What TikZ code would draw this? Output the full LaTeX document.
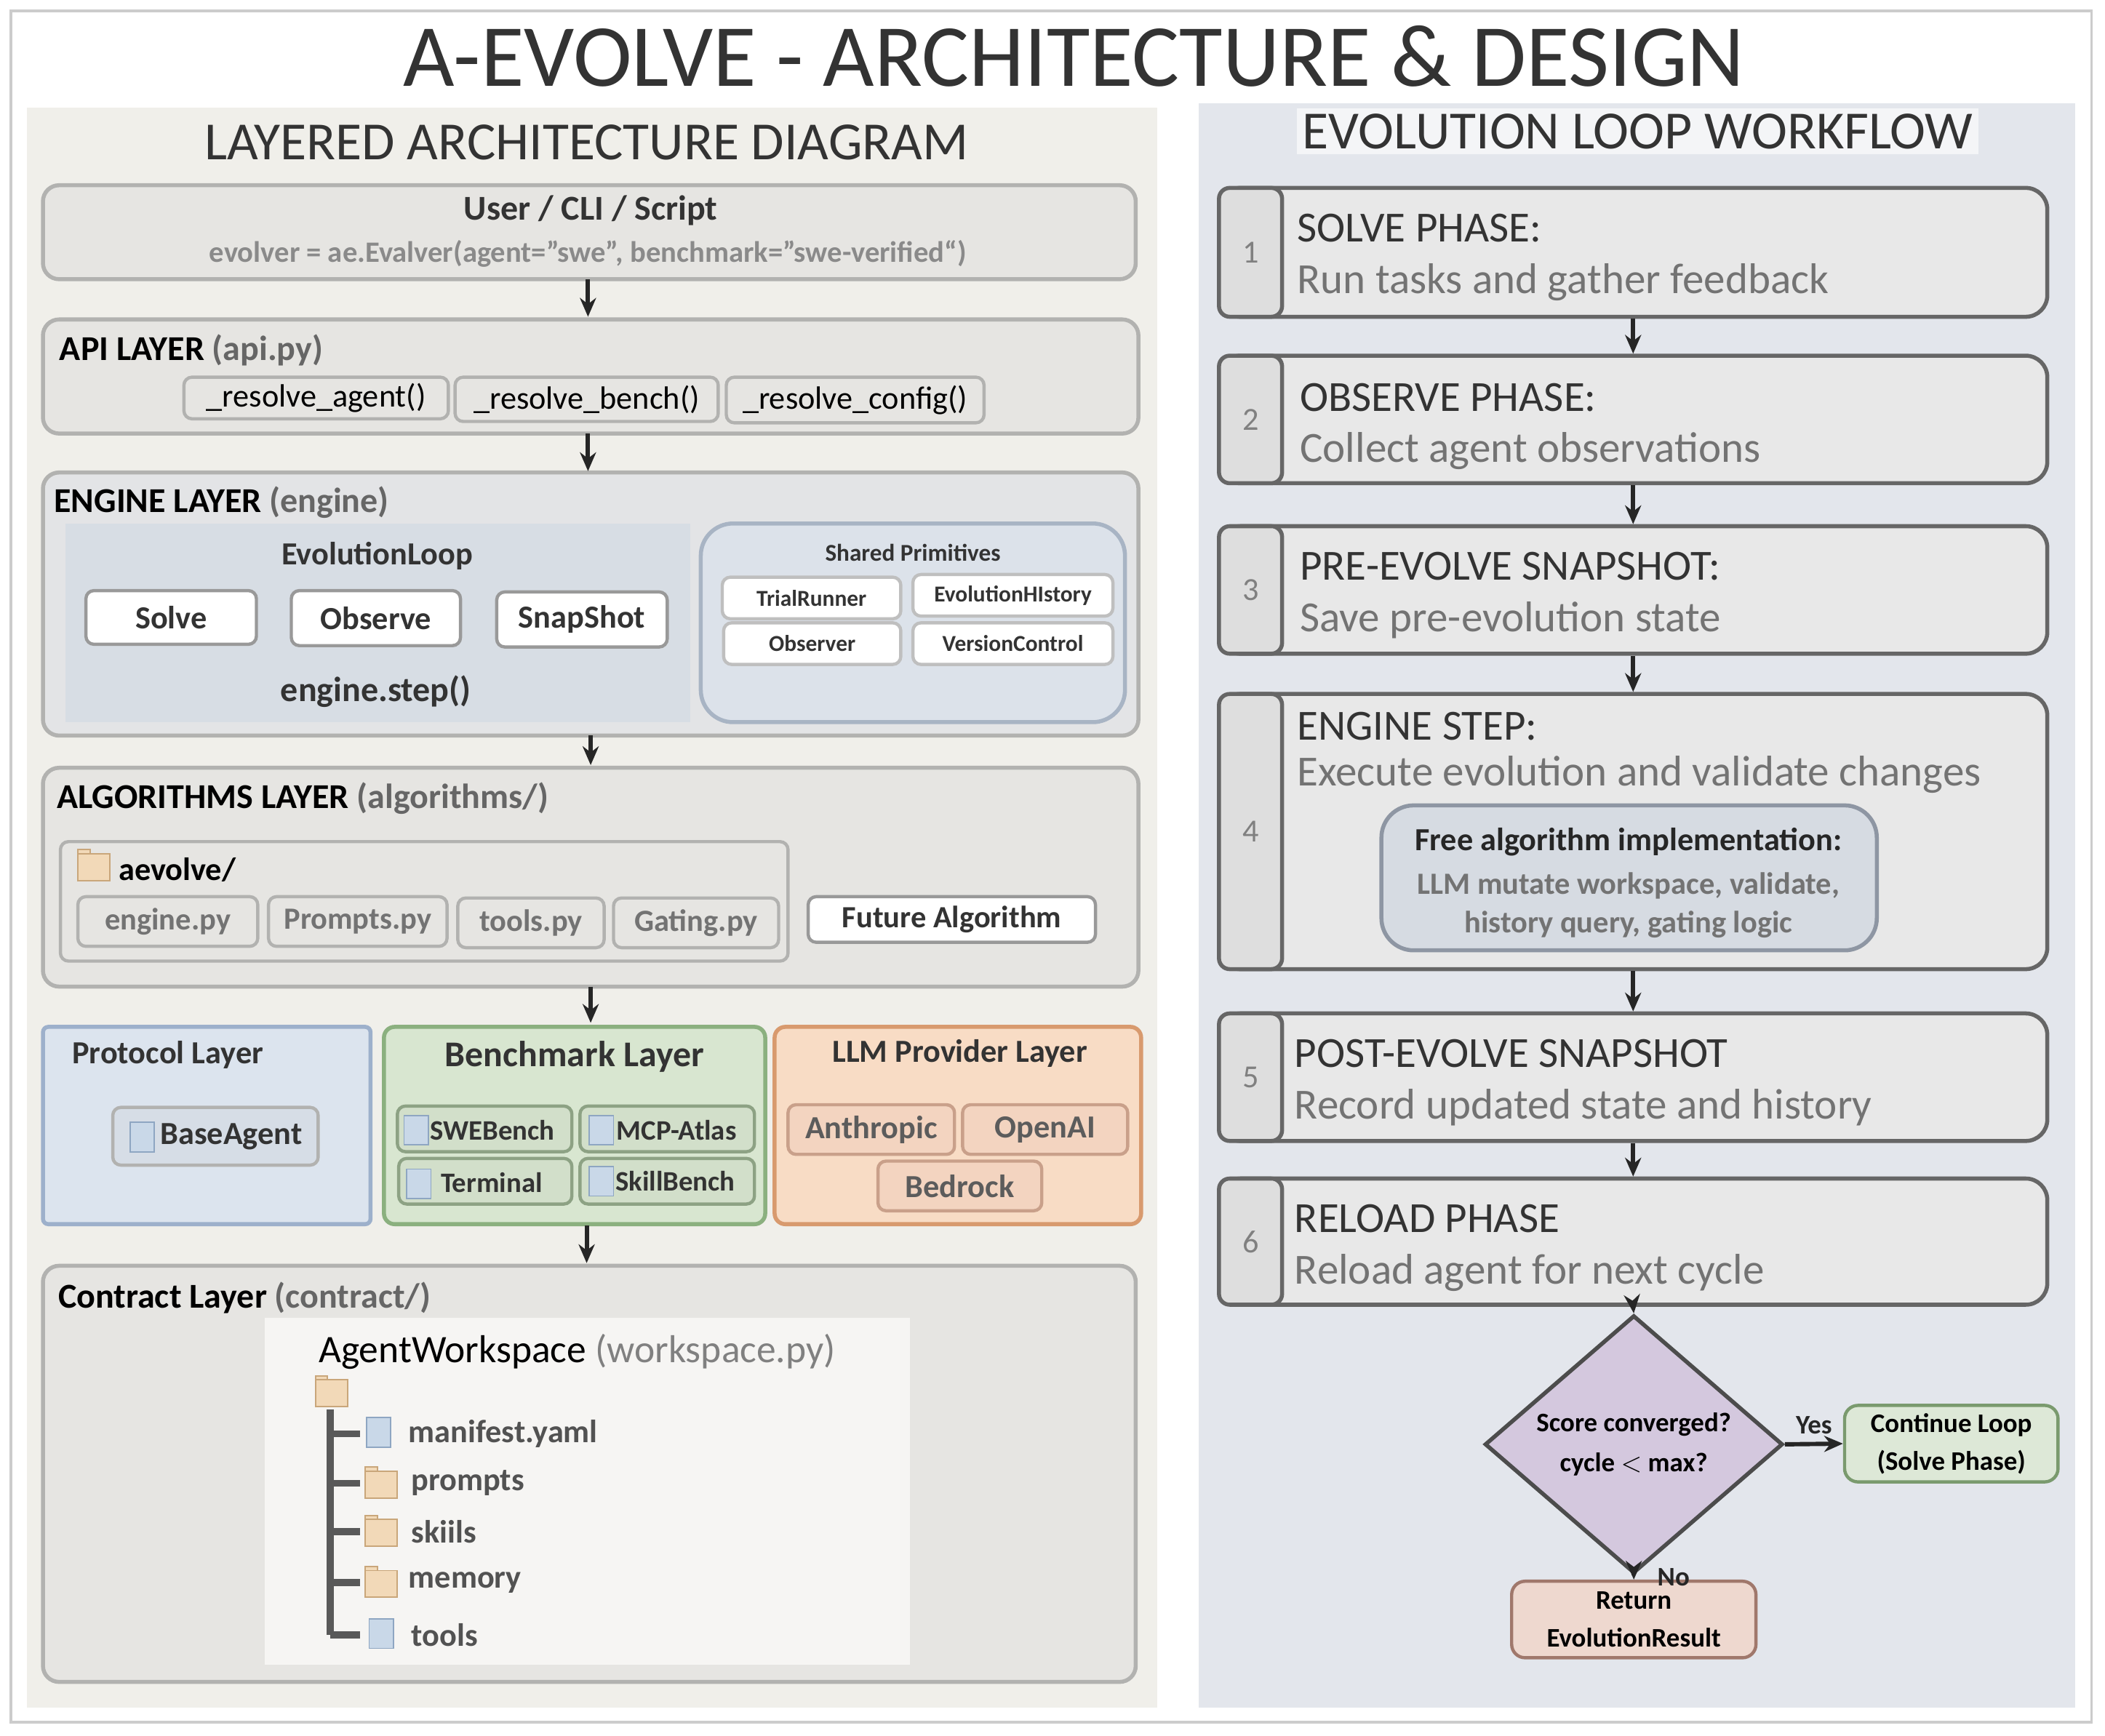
\documentclass[tikz,border=0pt]{standalone}
\usepackage{fontspec}
\setmainfont{Carlito}
\usetikzlibrary{fit,arrows.meta,shapes.geometric}
\newcommand{\fs}[1]{\fontsize{#1}{#1}\selectfont}
\newcommand{\bx}[6]{\node[#1,fit={(#3,#4)(#5,#6)},inner sep=0pt] (#2) {};}
\definecolor{bord}{HTML}{B2B2B0}
\definecolor{layer}{HTML}{E6E5E2}
\definecolor{gtxt}{HTML}{8A8A8A}
\definecolor{dtxt}{HTML}{333333}
\definecolor{lpanel}{HTML}{F0EFEA}
\definecolor{rpanel}{HTML}{E3E6EC}
\definecolor{engf}{HTML}{E3E4E6}
\definecolor{elf}{HTML}{D7DDE4}
\definecolor{spf}{HTML}{DCE2EA}
\definecolor{spd}{HTML}{A8B4C4}
\definecolor{protf}{HTML}{DCE4EE}
\definecolor{protd}{HTML}{9DB0CB}
\definecolor{baf}{HTML}{D6DDE6}
\definecolor{benf}{HTML}{D8E6D0}
\definecolor{bend}{HTML}{8BB07F}
\definecolor{bsf}{HTML}{D2DFCA}
\definecolor{bsd}{HTML}{8DA284}
\definecolor{llmf}{HTML}{F8DCC5}
\definecolor{llmd}{HTML}{D89A6E}
\definecolor{lsf}{HTML}{F3D4C0}
\definecolor{lsd}{HTML}{C9A08A}
\definecolor{wsf}{HTML}{F6F5F3}
\definecolor{faif}{HTML}{D6DBE2}
\definecolor{faid}{HTML}{8E96A3}
\definecolor{diaf}{HTML}{D4C8DE}
\definecolor{contf}{HTML}{DDE8D7}
\definecolor{contd}{HTML}{7A9A6E}
\definecolor{retf}{HTML}{EED8CF}
\definecolor{retd}{HTML}{A0786C}
\definecolor{foldf}{HTML}{F2D9B8}
\definecolor{foldd}{HTML}{C9A67A}
\definecolor{docf}{HTML}{C9D8E8}
\definecolor{docd}{HTML}{8EA6C2}
\tikzset{
 layerbox/.style={draw=bord,line width=1.5pt,fill=layer,rounded corners=6pt},
 sub/.style={draw=bord,line width=1.2pt,fill=layer,rounded corners=3pt},
 wsub/.style={draw=gray!80,line width=1.2pt,fill=white,rounded corners=3pt},
 arr/.style={-{Stealth[length=7pt,width=6pt]},line width=1.6pt,black!85},
 stepbox/.style={draw=black!60,line width=1.5pt,fill=gray!18,rounded corners=8pt},
 tabbox/.style={draw=black!60,line width=1.5pt,fill=gray!26,rounded corners=4pt},
 lbl/.style={inner sep=0pt,anchor=west},
 ctr/.style={inner sep=0pt},
}
\newcommand{\folder}[3]{\fill[foldf,draw=foldd,line width=0.5pt] (#1,#2) rectangle (#1+9,#2-3); \fill[foldf,draw=foldd,line width=0.5pt] (#1,#2) rectangle (#1+24,#2+20);\node[inner sep=0,fit={(#1,#2)(#1+24,#2+20)}] (#3) {};}
\newcommand{\doc}[3]{\fill[docf,draw=docd,line width=0.5pt] (#1,#2) rectangle (#1+18,#2+22);\node[inner sep=0,fit={(#1,#2)(#1+18,#2+22)}] (#3) {};}
\begin{document}
\begin{tikzpicture}[x=0.5pt,y=-0.5pt]
\useasboundingbox (0,0) rectangle (1568,1293);
\fill[white] (0,0) rectangle (1568,1293);
\draw[gray!40,line width=1pt] (8,8) rectangle (1558,1283);
\node[ctr,text=black!80] (title) at (800,42) {\fs{33}A-EVOLVE - ARCHITECTURE \& DESIGN};
% panels
\fill[lpanel] (20,80) rectangle (862,1272);
\fill[rpanel] (893,77) rectangle (1546,1272);
\node[ctr,text=dtxt] (lt) at (437,106) {\fs{20}LAYERED ARCHITECTURE DIAGRAM};
\node[ctr,text=dtxt,fill=white!60!rpanel,inner sep=2pt] (rt) at (1220,98) {\fs{20}EVOLUTION LOOP WORKFLOW};
% user
\bx{layerbox}{user}{32}{138}{846}{208}
\node[ctr,text=dtxt] (usert) at (440,157) {\fs{13}\bfseries User / CLI / Script};
\node[ctr,text=gtxt] (users) at (438,189) {\fs{11}\bfseries evolver = ae.Evalver(agent="swe", benchmark="swe-verified“)};
% api
\bx{layerbox}{api}{32}{238}{848}{323}
\node[lbl] (apit) at (44,261) {\fs{13}\bfseries API LAYER \textcolor{gray!80!black}{(api.py)}};
\bx{sub}{ra}{137}{281}{334}{312}\node[ctr] at (ra) {\fs{12}\_resolve\_agent()};
\bx{sub}{rb}{339}{281}{535}{314}\node[ctr] at (rb) {\fs{12}\_resolve\_bench()};
\bx{sub}{rc}{541}{281}{733}{315}\node[ctr] at (rc) {\fs{12}\_resolve\_config()};
% engine
\bx{layerbox,fill=engf}{eng}{32}{352}{848}{548}
\node[lbl] (engt) at (40,374) {\fs{13}\bfseries ENGINE LAYER \textcolor{gray!80!black}{(engine)}};
\fill[elf] (49,390) rectangle (514,538);
\node[ctr,text=dtxt] (el) at (281,414) {\fs{12}\bfseries EvolutionLoop};
\bx{wsub}{solve}{64}{440}{191}{480}\node[ctr,text=dtxt] at (solve) {\fs{12}\bfseries Solve};
\bx{wsub}{obs}{217}{440}{343}{481}\node[ctr,text=dtxt] at (obs) {\fs{12}\bfseries Observe};
\bx{wsub}{snap}{370}{441}{497}{482}\node[ctr,text=dtxt] at (snap) {\fs{12}\bfseries SnapShot};
\node[ctr,text=dtxt] (es) at (280,515) {\fs{13}\bfseries engine.step()};
\bx{layerbox,fill=spf,draw=spd,rounded corners=12pt}{sp}{522}{390}{838}{538}
\node[ctr,text=dtxt] (spt) at (680,412) {\fs{9}\bfseries Shared Primitives};
\bx{wsub,draw=gray!50}{tr}{538}{430}{671}{461}\node[ctr,text=dtxt] at (tr) {\fs{8.5}\bfseries TrialRunner};
\bx{wsub,draw=gray!50}{eh}{680}{428}{829}{459}\node[ctr,text=dtxt] at (eh) {\fs{8.5}\bfseries EvolutionHIstory};
\bx{wsub,draw=gray!50}{ob2}{539}{464}{671}{495}\node[ctr,text=dtxt] at (ob2) {\fs{8.5}\bfseries Observer};
\bx{wsub,draw=gray!50}{vc}{680}{464}{829}{495}\node[ctr,text=dtxt] at (vc) {\fs{8.5}\bfseries VersionControl};
% algorithms
\bx{layerbox}{alg}{32}{572}{848}{735}
\node[lbl] (algt) at (42,595) {\fs{13}\bfseries ALGORITHMS LAYER \textcolor{gray!80!black}{(algorithms/)}};
\bx{sub}{aev}{45}{627}{587}{716}
\folder{58}{636}{aevf}
\node[lbl] (aevt) at (88,648) {\fs{12}\bfseries aevolve/};
\bx{sub}{ep}{58}{668}{192}{705}\node[ctr,text=gray!90!black] at (ep) {\fs{11.5}\bfseries engine.py};
\bx{sub}{pp}{200}{668}{333}{705}\node[ctr,text=gray!90!black] at (pp) {\fs{11.5}\bfseries Prompts.py};
\bx{sub}{tp}{341}{669}{450}{706}\node[ctr,text=gray!90!black] at (tp) {\fs{11.5}\bfseries tools.py};
\bx{sub}{gp}{457}{669}{580}{706}\node[ctr,text=gray!90!black] at (gp) {\fs{11.5}\bfseries Gating.py};
\bx{wsub}{fa}{602}{668}{816}{702}\node[ctr,text=dtxt] at (fa) {\fs{11.5}\bfseries Future Algorithm};
% protocol / benchmark / llm
\bx{layerbox,fill=protf,draw=protd,rounded corners=2pt}{prot}{32}{765}{276}{912}
\node[ctr,text=dtxt] (prott) at (125,786) {\fs{12}\bfseries Protocol Layer};
\bx{sub,fill=baf}{ba}{84}{825}{237}{868}
\doc{97}{836}{bad}
\node[lbl,text=dtxt] (bat) at (119,847) {\fs{12}\bfseries BaseAgent};
\bx{layerbox,fill=benf,draw=bend,rounded corners=4pt}{bench}{286}{765}{570}{912}
\node[ctr,text=dtxt] (bencht) at (428,787) {\fs{13.5}\bfseries Benchmark Layer};
\bx{sub,fill=bsf,draw=bsd}{swe}{296}{824}{426}{858}
\bx{sub,fill=bsf,draw=bsd}{mcp}{432}{824}{562}{858}
\bx{sub,fill=bsf,draw=bsd}{term}{297}{863}{426}{897}
\bx{sub,fill=bsf,draw=bsd}{skb}{432}{863}{562}{897}
\doc{301}{831}{d1}\node[lbl,text=dtxt] at (320,842) {\fs{10.5}\bfseries SWEBench};
\doc{439}{831}{d2}\node[lbl,text=dtxt] at (459,842) {\fs{10.5}\bfseries MCP-Atlas};
\doc{303}{871}{d3}\node[lbl,text=dtxt] at (328,881) {\fs{10.5}\bfseries Terminal};
\doc{439}{869}{d4}\node[lbl,text=dtxt] at (458,880) {\fs{10.5}\bfseries SkillBench};
\bx{layerbox,fill=llmf,draw=llmd,rounded corners=4pt}{llm}{577}{765}{850}{912}
\node[ctr,text=dtxt] (llmt) at (715,785) {\fs{12}\bfseries LLM Provider Layer};
\bx{sub,fill=lsf,draw=lsd}{anth}{587}{823}{711}{860}\node[ctr,text=dtxt!80] at (anth) {\fs{12}\bfseries Anthropic};
\bx{sub,fill=lsf,draw=lsd}{oai}{717}{823}{840}{860}\node[ctr,text=dtxt!80] at (oai) {\fs{12}\bfseries OpenAI};
\bx{sub,fill=lsf,draw=lsd}{bed}{654}{865}{776}{902}\node[ctr,text=dtxt!80] at (bed) {\fs{12}\bfseries Bedrock};
% contract
\bx{layerbox}{con}{32}{943}{846}{1253}
\node[lbl] (cont) at (43,967) {\fs{13}\bfseries Contract Layer \textcolor{gray!80!black}{(contract/)}};
\fill[wsf] (197,982) rectangle (678,1240);
\node[lbl] (aw) at (237,1007) {\fs{14.5}AgentWorkspace \textcolor{gray}{(workspace.py)}};
\folder{235}{1028}{rootf}
\draw[gray!70!black,line width=2.5pt] (246,1050) -- (246,1218);
\foreach \yy in {1068,1105,1141,1179,1218} \draw[gray!70!black,line width=2.5pt] (246,\yy) -- (268,\yy);
\doc{273}{1056}{i1}\node[lbl,text=dtxt!85] at (304,1068) {\fs{12}\bfseries manifest.yaml};
\folder{272}{1096}{i2}\node[lbl,text=dtxt!85] at (306,1105) {\fs{12}\bfseries prompts};
\folder{272}{1132}{i3}\node[lbl,text=dtxt!85] at (306,1141) {\fs{12}\bfseries skiils};
\folder{272}{1170}{i4}\node[lbl,text=dtxt!85] at (304,1179) {\fs{12}\bfseries memory};
\doc{275}{1206}{i5}\node[lbl,text=dtxt!85] at (306,1218) {\fs{12}\bfseries tools};
% left arrows
\draw[arr] (438,208) -- (438,236);
\draw[arr] (438,323) -- (438,351);
\draw[arr] (440,548) -- (440,570);
\draw[arr] (440,735) -- (440,762);
\draw[arr] (437,913) -- (437,941);
% right steps
\newcommand{\stp}[8]{\bx{stepbox}{#1}{908}{#2}{1525}{#3}
 \bx{tabbox}{#1n}{908}{#2}{955}{#3}\node[ctr,text=gray] at (#1n) {\fs{12}#4};
 \node[lbl,text=dtxt] at (#5,#6) {\fs{16}#7};
 \node[lbl,text=gray!90!black] at (#5,#6+40) {\fs{16}#8};}
\stp{s1}{140}{236}{1}{966}{170}{SOLVE PHASE:}{Run tasks and gather feedback}
\stp{s2}{265}{360}{2}{968}{296}{OBSERVE PHASE:}{Collect agent observations}
\stp{s3}{392}{487}{3}{968}{422}{PRE-EVOLVE SNAPSHOT:}{Save pre-evolution state}
\bx{stepbox}{s4}{908}{517}{1525}{722}
\bx{tabbox}{s4n}{908}{517}{955}{722}\node[ctr,text=gray] at (s4n) {\fs{12}4};
\node[lbl,text=dtxt] at (966,541) {\fs{16}ENGINE STEP:};
\node[lbl,text=gray!90!black] at (966,577) {\fs{16}Execute evolution and validate changes};
\bx{stepbox,fill=faif,draw=faid,rounded corners=12pt}{fai}{1029}{600}{1398}{708}
\node[ctr,text=black!85] at (1213,627) {\fs{12}\bfseries Free algorithm implementation:};
\node[ctr,text=gray!90!black] at (1213,660) {\fs{11.5}\bfseries LLM mutate workspace, validate,};
\node[ctr,text=gray!90!black] at (1213,689) {\fs{11.5}\bfseries history query, gating logic};
\stp{s5}{755}{850}{5}{964}{785}{POST-EVOLVE SNAPSHOT}{Record updated state and history}
\stp{s6}{878}{972}{6}{964}{908}{RELOAD PHASE}{Reload agent for next cycle}
\draw[arr] (s1.south) -- (s2.north);
\draw[arr] (s2.south) -- (s3.north);
\draw[arr] (s3.south) -- (s4.north);
\draw[arr] (s4.south) -- (s5.north);
\draw[arr] (s5.south) -- (s6.north);
\node[diamond,draw=black!70,line width=1.5pt,fill=diaf,minimum width=111pt,minimum height=61pt,inner sep=0pt,align=center] (dia) at (1217,1076) {\fs{10}\bfseries Score converged?\\[3pt]\fs{10}\bfseries cycle $<$ max?};
\draw[arr] (s6.south) -- (dia.north);
\bx{sub,fill=contf,draw=contd,rounded corners=5pt}{cont2}{1374}{1047}{1533}{1104}
\node[ctr,align=center] at (cont2) {\fs{10}\bfseries Continue Loop\\[2pt]\fs{10}\bfseries (Solve Phase)};
\bx{sub,fill=retf,draw=retd,rounded corners=5pt}{ret}{1126}{1178}{1308}{1235}
\node[ctr,align=center] at (ret) {\fs{10}\bfseries Return\\[2pt]\fs{10}\bfseries EvolutionResult};
\draw[arr] (dia.east) -- node[above,inner sep=3pt] {\fs{10}\bfseries Yes} (cont2.west);
\draw[arr] (dia.south) -- node[right,inner sep=8pt] {\fs{10}\bfseries No} (ret.north);
\end{tikzpicture}
\end{document}
